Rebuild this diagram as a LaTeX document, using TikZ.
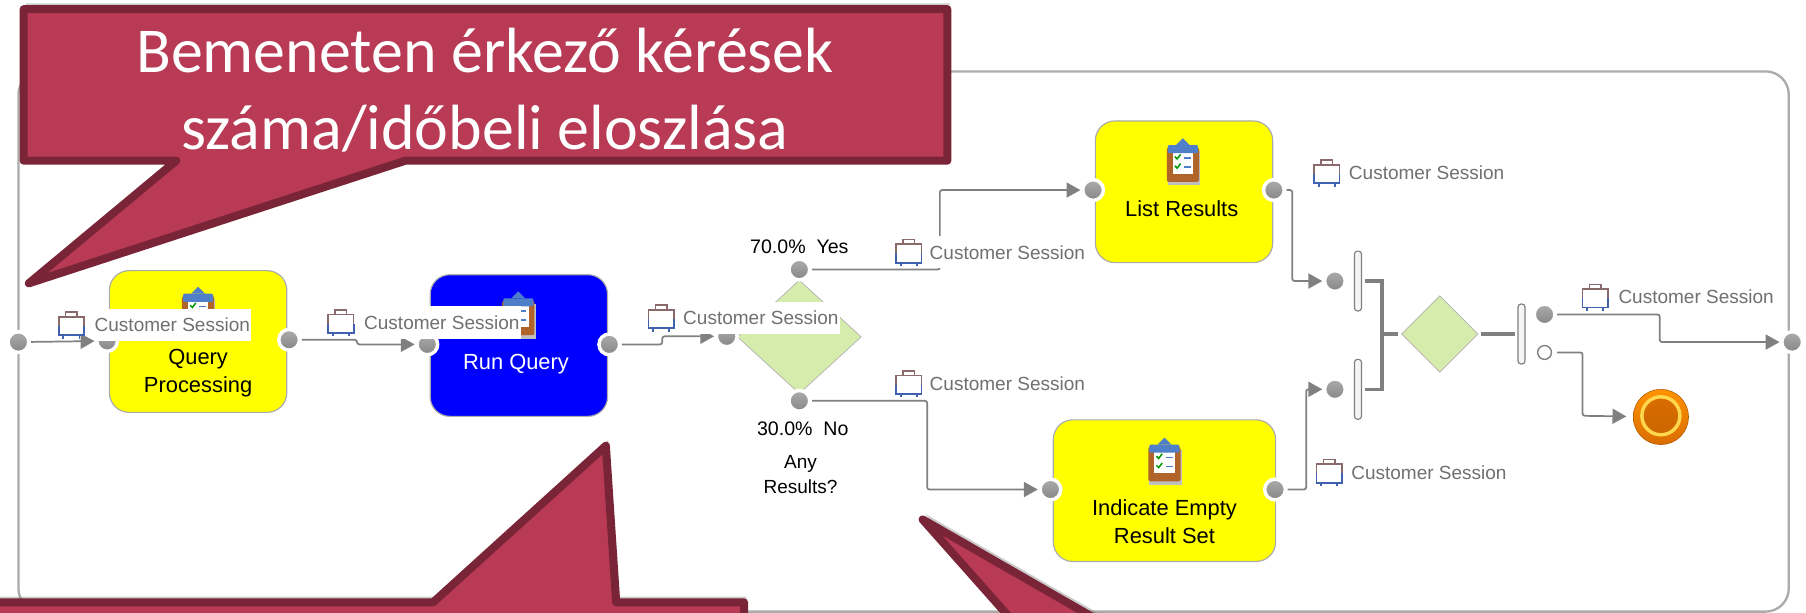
\documentclass[tikz,border=0pt]{standalone}
\usepackage{fontspec}
\setmainfont{Liberation Sans}
\newfontfamily\calloutfont{Carlito}
\usetikzlibrary{arrows.meta,shadows,shapes.geometric}

\definecolor{calloutfill}{HTML}{B83A54}
\definecolor{calloutline}{HTML}{7A2438}
\definecolor{wiregray}{HTML}{808080}
\definecolor{framegray}{HTML}{ABABAB}
\definecolor{decisiongreen}{HTML}{D5ECAC}
\definecolor{sessiongray}{HTML}{707070}
\definecolor{taskyellow}{RGB}{255,255,0}
\definecolor{taskblue}{RGB}{0,0,255}
\definecolor{casebrown}{HTML}{8A6A6A}
\definecolor{caseblue}{HTML}{4060B0}
\definecolor{boardbrown}{HTML}{B0642A}
\definecolor{clipblue}{HTML}{4F7FC8}

\tikzset{
  procbox/.style={draw=framegray, line width=1pt, rounded corners=17pt, minimum width=154pt, minimum height=123pt, inner sep=0pt},
  boxtext/.style={font=\fontsize{19}{24}\selectfont, align=center, inner sep=0pt},
  port/.style={circle, draw=white, line width=3pt, top color=gray!65, bottom color=gray!95, minimum size=18pt, inner sep=0pt, outer sep=2pt},
  portopen/.style={circle, draw=gray, line width=1.2pt, fill=white, minimum size=12pt, inner sep=0pt, outer sep=5pt},
  flow/.style={draw=wiregray, line width=1.5pt, rounded corners=2pt, -{Triangle[length=12pt,width=13pt]}},
  thickflow/.style={draw=wiregray, line width=3pt},
  decision/.style={diamond, draw=gray!60, fill=decisiongreen, line width=.6pt, inner sep=0pt, outer sep=2pt},
  syncbar/.style={draw=gray, fill=gray!8, line width=1pt, rounded corners=2.5pt, minimum width=6pt, minimum height=52pt, inner sep=0pt, outer sep=3pt},
  session/.style={anchor=west, fill=white, text=sessiongray, inner xsep=1pt, inner ysep=0pt, minimum height=28pt, font=\fontsize{16.5}{18}\selectfont},
  callout/.style={draw=calloutline, fill=calloutfill, line width=7pt, line join=round, drop shadow={shadow xshift=2pt, shadow yshift=5pt, opacity=.4}},
  sessionicon/.pic={
    \draw[draw=casebrown, line width=1.4pt] (-5,-7) -- (-5,-11) -- (5,-11) -- (5,-7);
    \fill[white] (-11,-7) rectangle (11,9);
    \draw[draw=casebrown, line width=1.4pt] (-11,1) -- (-11,-7) -- (11,-7) -- (11,1);
    \draw[draw=caseblue, line width=1.6pt] (-11,1) -- (-11,9) -- (11,9) -- (11,1);
    \draw[draw=caseblue, line width=1.6pt] (-7,9) -- (-7,12) (7,9) -- (7,12);
  },
  clipicon/.pic={
    \fill[black!25] (-13,-8) rectangle (15,22);
    \fill[boardbrown, rounded corners=2pt] (-14,-11) rectangle (14,19);
    \fill[white] (-9,-9) rectangle (9,12);
    \fill[clipblue, rounded corners=1pt] (-13,-13) rectangle (13,-6);
    \fill[clipblue] (-6,-13) -- (0,-19) -- (6,-13) -- cycle;
    \draw[green!60!black, line width=1.3pt] (-7,-3) -- (-5,-1) -- (-2,-5) (-7,5) -- (-5,7) -- (-2,3);
    \draw[clipblue, line width=1.3pt] (1,-2) -- (7,-2) (1,6) -- (7,6);
  },
}

\begin{document}
\begin{tikzpicture}[x=1pt,y=-1pt]

\useasboundingbox (0,0) rectangle (1568,532.2);
\clip (0,0) rectangle (1568,532.2);
\fill[white] (0,0) rectangle (1568,532.2);

% frame
\draw[draw=framegray, line width=2pt, rounded corners=20pt] (16,62) rectangle (1553,531);

% tasks
\node[procbox, fill=taskyellow] (query) at (172,296.5) {};
\node[procbox, fill=taskblue] (run) at (450.5,300) {};
\node[procbox, fill=taskyellow] (list) at (1028,166.5) {};
\node[procbox, fill=taskyellow, minimum width=193pt] (empty) at (1011,426) {};

\pic at (172,268) {clipicon};
\pic at (450,272) {clipicon};
\pic at (1027,139) {clipicon};
\pic at (1011,399) {clipicon};

\node[boxtext] (querytext) at (172,324) {Query\\Processing};
\node[boxtext, text=white] (runtext) at (448,316) {Run Query};
\node[boxtext] (listtext) at (1026,181) {List Results};
\node[boxtext] (emptytext) at (1011,453) {Indicate Empty\\Result Set};

% gateways
\node[decision, aspect=1.09, minimum width=109pt, minimum height=100pt] (any) at (694,292.5) {};
\node[decision, aspect=1, minimum width=68pt, minimum height=68pt] (join) at (1250,290) {};
\node[syncbar] (barA) at (1179,244) {};
\node[syncbar] (barB) at (1179,338) {};
\node[syncbar] (barC) at (1321,290) {};
\coordinate (joinmid) at (1200,290);

% ports
\node[port] (framein) at (16,297) {};
\node[port] (queryin) at (93,296) {};
\node[port] (queryout) at (251,295) {};
\node[port] (runin) at (371,299) {};
\node[port] (runout) at (529,299) {};
\node[port] (anyin) at (631,292) {};
\node[port] (anyyes) at (694,234) {};
\node[port] (anyno) at (694,348) {};
\node[port] (listin) at (949,165) {};
\node[port] (listout) at (1106,165) {};
\node[port] (emptyin) at (912,425) {};
\node[port] (emptyout) at (1107,425) {};
\node[port] (joinA) at (1159,244) {};
\node[port] (joinB) at (1159,338) {};
\node[port] (splitout) at (1341,273) {};
\node[portopen] (splitend) at (1341,306) {};
\node[port] (frameout) at (1556,297) {};
\node[circle, minimum size=48pt, inner sep=0pt, outer sep=6pt, top color=orange!85!yellow, bottom color=orange!85!black, draw=orange!70!black, line width=.5pt] (finish) at (1442,362) {};
\node[circle, draw=orange!45!yellow!70!white, line width=3pt, minimum size=33pt, inner sep=0pt, top color=orange!85!black, bottom color=orange!80!black] (finishring) at (1442,361) {};

% connectors
\draw[flow] (framein) -- (queryin);
\draw[flow] (queryout) -- (310,295) -- (310,299) -- (runin);
\draw[flow] (runout) -- (575,299) -- (575,292) -- (anyin);
\draw[flow] (anyyes) -- (816,234) -- (816,165) -- (listin);
\draw[flow] (anyno) -- (805,348) -- (805,425) -- (emptyin);
\draw[flow] (listout) -- (1122,165) -- (1122,244) -- (joinA);
\draw[flow] (emptyout) -- (1134,425) -- (1134,338) -- (joinB);
\draw[flow] (splitout) -- (1441,273) -- (1441,297) -- (frameout);
\draw[flow] (splitend) -- (1374,306) -- (1374,361) -- (finish);
\draw[thickflow] (barA) -| (joinmid) -- (join);
\draw[thickflow] (barB) -| (joinmid);
\draw[thickflow] (join) -- (barC);

% labels on the gateway
\node[boxtext, font=\fontsize{17}{18}\selectfont] (yeslabel) at (694,214) {70.0\%\ \ Yes};
\node[boxtext, font=\fontsize{17}{18}\selectfont] (nolabel) at (697,372) {30.0\%\ \ No};
\node[boxtext, font=\fontsize{16.5}{21}\selectfont] (anylabel) at (695,412) {Any\\Results?};

% session labels
\pic at (62,282) {sessionicon};
\node[session] (sessionA) at (81,282) {Customer Session};
\pic at (296,280) {sessionicon};
\node[session] (sessionB) at (315,280) {Customer Session};
\pic at (574,276) {sessionicon};
\node[session] (sessionC) at (592,276) {Customer Session};
\pic at (789,219) {sessionicon};
\node[session] (sessionD) at (806,219) {Customer Session};
\pic at (789,333) {sessionicon};
\node[session] (sessionE) at (806,333) {Customer Session};
\pic at (1152,150) {sessionicon};
\node[session] (sessionF) at (1170,150) {Customer Session};
\pic at (1154,410) {sessionicon};
\node[session] (sessionG) at (1172,410) {Customer Session};
\pic at (1385,258) {sessionicon};
\node[session] (sessionH) at (1404,258) {Customer Session};

% callouts
\draw[callout] (20.5,8) -- (822.5,8) -- (822.5,139.5) -- (352,139.5) -- (25,246) -- (153,139.5) -- (20.5,139.5) -- cycle;
\draw[callout] (-10,560) -- (-10,523) -- (376,523) -- (526,387) -- (535,523) -- (646,523) -- (646,560) -- cycle;
\draw[callout] (801,451) -- (956,540) -- (880,540) -- cycle;

\node[align=center, text=white, inner sep=0pt, font=\calloutfont\fontsize{55.5}{67}\selectfont] (inputtext) at (421,78) {Bemeneten érkező kérések\\száma/időbeli eloszlása};

\end{tikzpicture}
\end{document}
